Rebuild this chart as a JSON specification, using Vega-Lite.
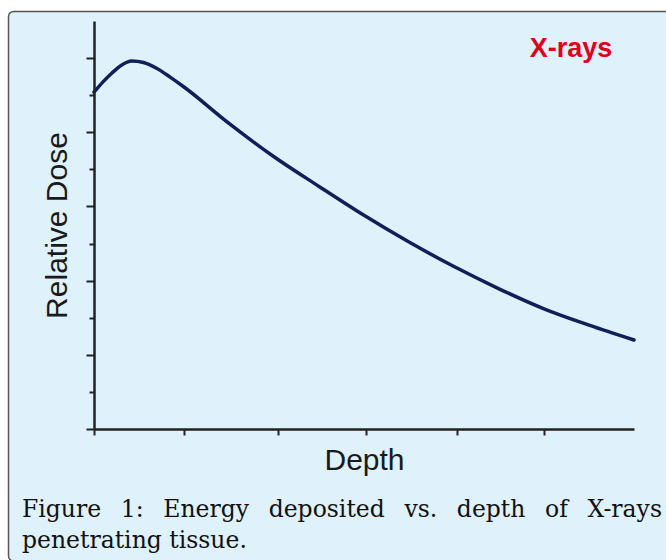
{
  "$schema": "https://vega.github.io/schema/vega-lite/v6.json",
  "width": 540,
  "height": 408,
  "autosize": {"type": "none"},
  "padding": {"left": 94, "top": 21, "right": 32, "bottom": 131},
  "background": "white",
  "config": {"view": {"stroke": null}},
  "datasets": {
    "curve": [
      {"depth": 0, "dose": 4.54},
      {"depth": 0.1, "dose": 4.68},
      {"depth": 0.2, "dose": 4.8},
      {"depth": 0.3, "dose": 4.9},
      {"depth": 0.42, "dose": 4.96},
      {"depth": 0.55, "dose": 4.94},
      {"depth": 0.7, "dose": 4.86},
      {"depth": 0.85, "dose": 4.74},
      {"depth": 1.0, "dose": 4.61},
      {"depth": 1.5, "dose": 4.12},
      {"depth": 2.0, "dose": 3.67},
      {"depth": 2.5, "dose": 3.27},
      {"depth": 3.0, "dose": 2.88},
      {"depth": 3.5, "dose": 2.52},
      {"depth": 4.0, "dose": 2.19},
      {"depth": 4.5, "dose": 1.89},
      {"depth": 5.0, "dose": 1.62},
      {"depth": 5.5, "dose": 1.4},
      {"depth": 6.0, "dose": 1.2}
    ],
    "label": [{"depth": 5.3, "dose": 5.02, "text": "X-rays"}],
    "caption": [{"caption": ["Figure\u00a0\u00a0\u20091:\u00a0\u00a0\u2009Energy\u00a0\u00a0\u2009deposited\u00a0\u00a0\u2009vs.\u00a0\u00a0\u2009depth\u00a0\u00a0\u2009of\u00a0\u00a0\u2009X-rays", "penetrating tissue."]}]
  },
  "layer": [
    {
      "data": {"values": [{}]},
      "mark": {"type": "rect", "fill": "#dff1fb", "stroke": "#555555", "strokeWidth": 1.5, "cornerRadius": 5, "clip": false},
      "encoding": {
        "x": {
          "datum": -0.95, "type": "quantitative",
          "scale": {"domain": [0, 6], "nice": false, "zero": false},
          "axis": {
            "title": "Depth",
            "values": [0, 1, 2.05, 3.02, 4.03, 5],
            "labels": false,
            "grid": false,
            "domainColor": "#222222", "domainWidth": 2.5,
            "tickColor": "#222222", "tickWidth": 2, "tickSize": 6,
            "titleFont": "Liberation Sans", "titleFontSize": 30, "titleFontWeight": "normal", "titleColor": "#1a1a1a",
            "titlePadding": 9,
            "zindex": 1
          }
        },
        "x2": {"datum": 7.5},
        "y": {
          "datum": 5.628, "type": "quantitative",
          "scale": {"domain": [0, 5.5], "nice": false},
          "axis": {
            "title": "Relative Dose",
            "values": [0, 0.5, 1, 1.5, 2, 2.5, 3, 3.5, 4, 4.5, 5],
            "labels": false,
            "grid": false,
            "domainColor": "#222222", "domainWidth": 2.5,
            "tickColor": "#222222", "tickWidth": 2,
            "tickSize": {"condition": {"test": "datum.value % 1 === 0", "value": 8}, "value": 5},
            "titleFont": "Liberation Sans", "titleFontSize": 30, "titleFontWeight": "normal", "titleColor": "#1a1a1a",
            "titlePadding": 13,
            "zindex": 1
          }
        },
        "y2": {"datum": -1.78}
      }
    },
    {
      "data": {"name": "curve"},
      "mark": {"type": "line", "color": "#101f5a", "strokeWidth": 3.5, "interpolate": "monotone", "strokeCap": "round"},
      "encoding": {
        "x": {"field": "depth", "type": "quantitative"},
        "y": {"field": "dose", "type": "quantitative"}
      }
    },
    {
      "data": {"name": "label"},
      "mark": {"type": "text", "color": "#e3001b", "font": "Liberation Sans", "fontSize": 27, "fontWeight": "bold", "align": "center", "baseline": "alphabetic"},
      "encoding": {
        "x": {"field": "depth", "type": "quantitative"},
        "y": {"field": "dose", "type": "quantitative"},
        "text": {"field": "text"}
      }
    },
    {
      "data": {"name": "caption"},
      "mark": {"type": "text", "color": "#111111", "font": "DejaVu Serif", "fontSize": 23.5, "align": "left", "baseline": "alphabetic", "lineHeight": 31, "clip": false},
      "encoding": {
        "x": {"datum": -0.8, "type": "quantitative"},
        "y": {"datum": -1.186, "type": "quantitative"},
        "text": {"field": "caption"}
      }
    }
  ]
}
